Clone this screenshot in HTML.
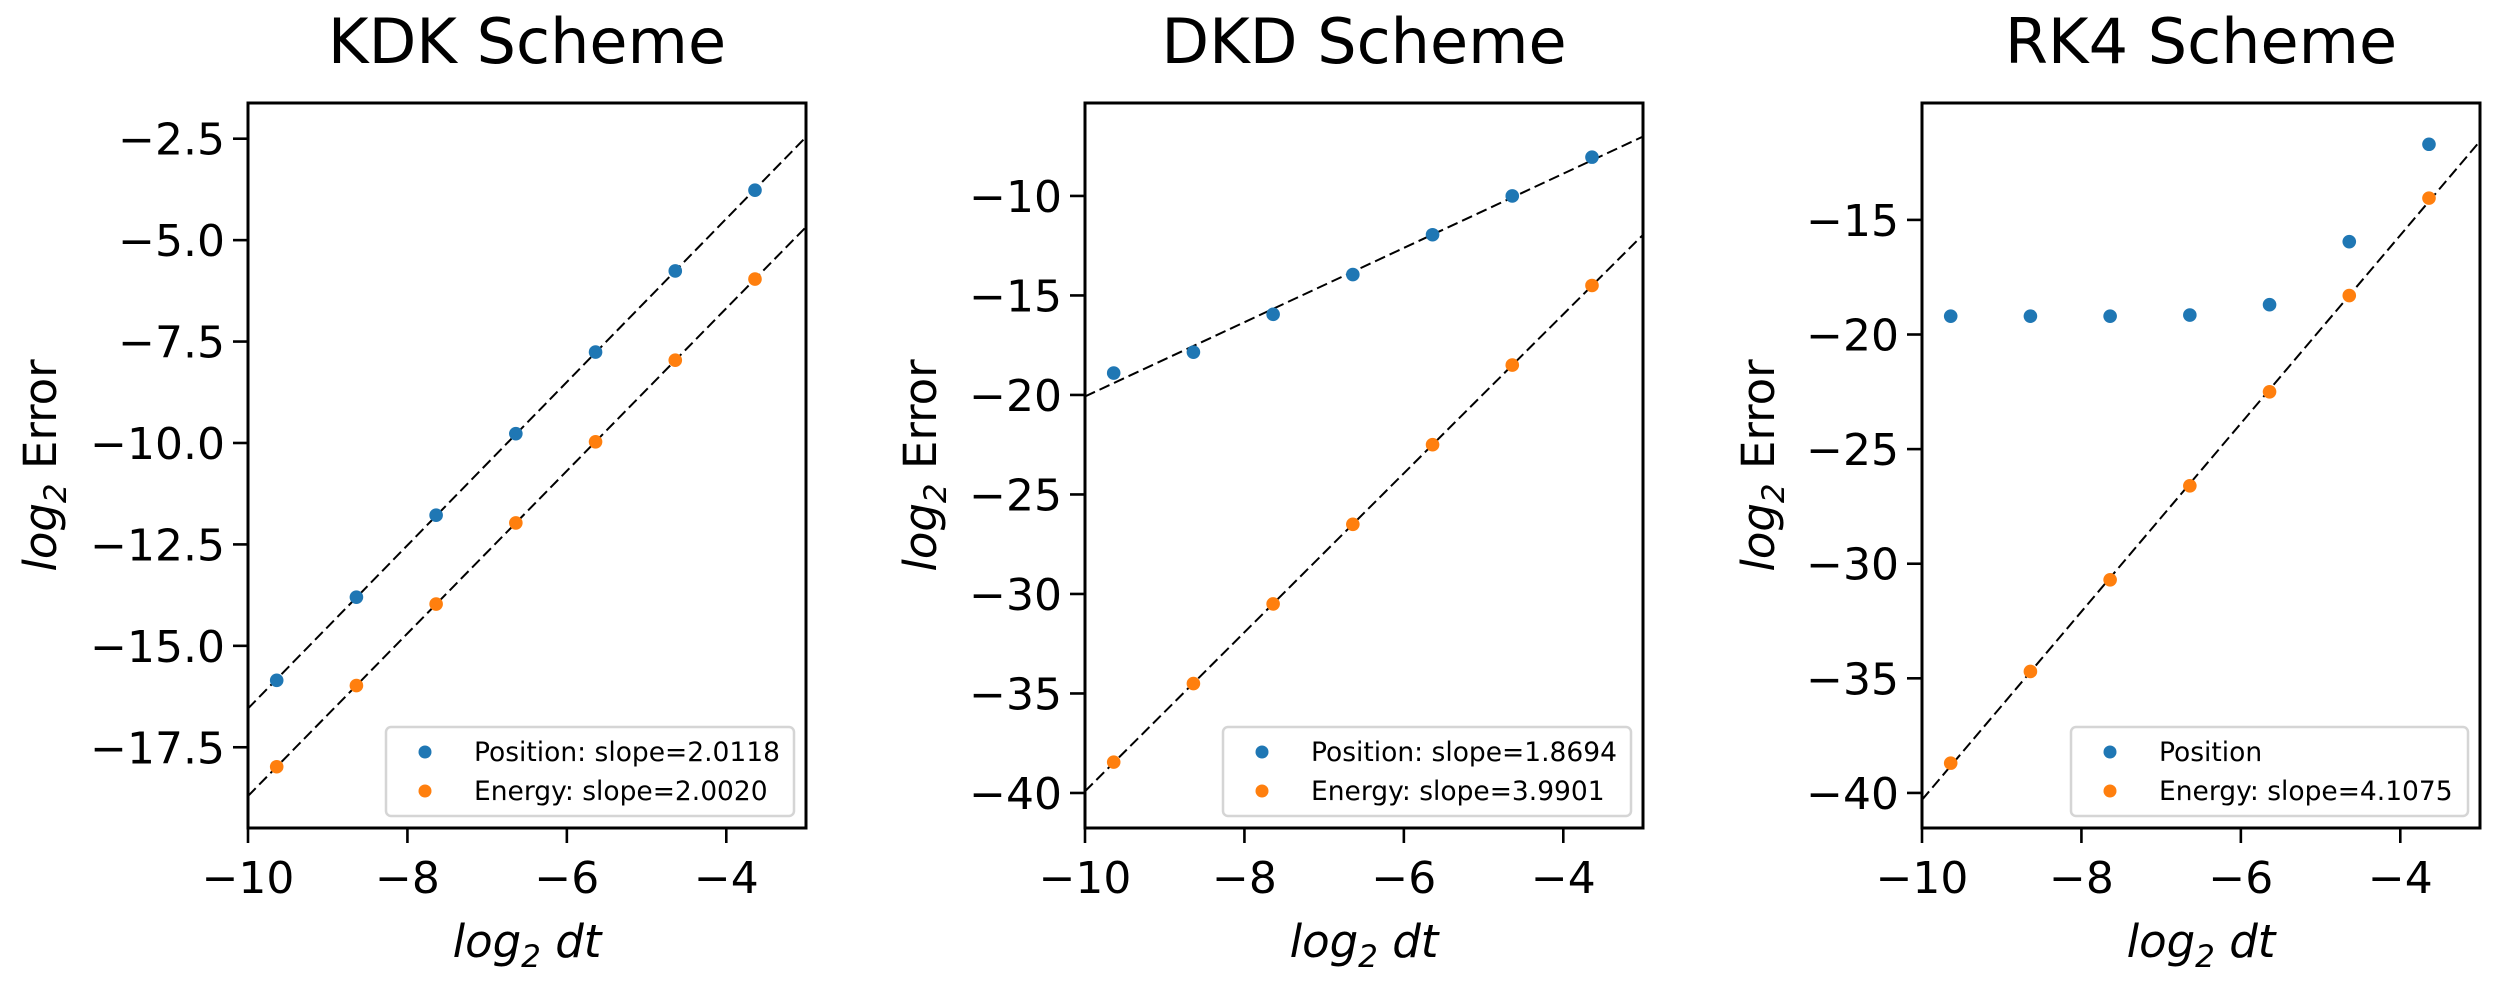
<!DOCTYPE html>
<html><head><meta charset="utf-8">
<style>
html,body{margin:0;padding:0;background:#fff;}
svg{display:block;font-family:"DejaVu Sans","Liberation Sans",sans-serif;}
</style></head>
<body>
<svg id="fig" width="2496" height="983" viewBox="0 0 2496 983" xmlns="http://www.w3.org/2000/svg"></svg>
<script>
const xs = [-9.64, -8.64, -7.64, -6.64, -5.64, -4.64, -3.64];
const xTicks = [-10, -8, -6, -4];
const kdkPos = [-15.85, -13.8, -11.78, -9.77, -7.76, -5.76, -3.77];
const kdkEn = [-17.98, -15.98, -13.97, -11.97, -9.97, -7.96, -5.96];
const dkdPos = [-18.9, -17.85, -15.95, -13.95, -11.95, -10.0, -8.05];
const dkdEn = [-38.45, -34.5, -30.5, -26.5, -22.5, -18.5, -14.5];
const rk4Pos = [-19.2, -19.2, -19.2, -19.15, -18.7, -15.95, -11.7];
const rk4En = [-38.7, -34.7, -30.7, -26.6, -22.5, -18.3, -14.05];
const kdkTicks = [-2.5, -5.0, -7.5, -10.0, -12.5, -15.0, -17.5];
const dkdTicks = [-10, -15, -20, -25, -30, -35, -40];
const rk4Ticks = [-15, -20, -25, -30, -35, -40];
const titles = ["KDK Scheme", "DKD Scheme", "RK4 Scheme"];
const posLabels = ["Position: slope=2.0118", "Position: slope=1.8694", "Position"];
const enLabels = ["Energy: slope=2.0020", "Energy: slope=3.9901", "Energy: slope=4.1075"];

const NS = "http://www.w3.org/2000/svg";
const svg = document.getElementById("fig");
function mk(tag, attrs, parent) {
  const e = document.createElementNS(NS, tag);
  for (const k in attrs) e.setAttribute(k, attrs[k]);
  (parent || svg).appendChild(e);
  return e;
}
function fit(x, y) {
  const n = x.length; let mx = 0, my = 0;
  for (let i = 0; i < n; i++) { mx += x[i]; my += y[i]; }
  mx /= n; my /= n;
  let sxy = 0, sxx = 0;
  for (let i = 0; i < n; i++) { sxy += (x[i]-mx)*(y[i]-my); sxx += (x[i]-mx)*(x[i]-mx); }
  const m = sxy / sxx; return [m, my - m*mx];
}
const panels = [
  {L:248, ymin:-19.49, ymax:-1.62, pos:kdkPos, en:kdkEn, ticks:kdkTicks, fmt:v=>v.toFixed(1), posLine:true, legW:408, ylabX:40},
  {L:1085, ymin:-41.76, ymax:-5.33, pos:dkdPos, en:dkdEn, ticks:dkdTicks, fmt:v=>String(v), posLine:true, legW:408, ylabX:920},
  {L:1922, ymin:-41.53, ymax:-9.9, pos:rk4Pos, en:rk4En, ticks:rk4Ticks, fmt:v=>String(v), posLine:false, legW:397, ylabX:1758}
];
const T = 103, B = 828, W = 558, XMIN = -10, XMAX = -3;
const BLUE = "#1f77b4", ORANGE = "#ff7f0e";
function minus(s){ return s.replace("-", "\u2212"); }

panels.forEach((p, pi) => {
  const g = mk("g", {});
  
  
  const sx = v => p.L + (v - XMIN) / (XMAX - XMIN) * W;
  const sy = v => B - (v - p.ymin) / (p.ymax - p.ymin) * (B - T);
  const clipId = "clip" + pi;
  const cp = mk("clipPath", {id: clipId}, g);
  mk("rect", {x:p.L, y:T, width:W, height:B-T}, cp);

  const lines = [[p.en, "energy"]];
  if (p.posLine) lines.unshift([p.pos, "position"]);
  lines.forEach(([ys, nm]) => {
    const [m, b] = fit(xs, ys);
    const ln = mk("line", {x1:sx(XMIN), y1:sy(m*XMIN+b), x2:sx(XMAX), y2:sy(m*XMAX+b),
      stroke:"#000", "stroke-width":2, "stroke-dasharray":"11,5", "clip-path":"url(#"+clipId+")"}, g);
    
    
  });
  [[p.pos, BLUE, "position"], [p.en, ORANGE, "energy"]].forEach(([ys, col, nm]) => {
    ys.forEach((v, i) => {
      const c = mk("circle", {cx:sx(xs[i]), cy:sy(v), r:6.8, fill:col}, g);
      
      
    });
  });
  const fr = mk("rect", {x:p.L, y:T, width:W, height:B-T, fill:"none", stroke:"#000", "stroke-width":3}, g);
  
  
  xTicks.forEach(v => {
    const x = sx(v);
    mk("line", {x1:x, y1:B, x2:x, y2:B+15, stroke:"#000", "stroke-width":2.6}, g);
    const t = mk("text", {x:x, y:893, "font-size":44, "text-anchor":"middle"}, g);
    t.textContent = minus(String(v));
    
    
  });
  p.ticks.forEach(v => {
    const y = sy(v);
    mk("line", {x1:p.L-15, y1:y, x2:p.L, y2:y, stroke:"#000", "stroke-width":2.6}, g);
    const t = mk("text", {x:p.L-23, y:y+16, "font-size":44, "text-anchor":"end"}, g);
    t.textContent = minus(p.fmt(v));
    
    
  });
  const tt = mk("text", {x:p.L+W/2, y:63, "font-size":62, "text-anchor":"middle"}, g);
  tt.textContent = titles[pi];
  
  
  const xl = mk("text", {x:p.L+W/2, y:957, "font-size":45, "text-anchor":"middle"}, g);
  xl.innerHTML = '<tspan font-style="italic">log</tspan><tspan font-style="italic" font-size="31" dy="10">2</tspan><tspan font-style="italic" dy="-10"> dt</tspan>';
  
  
  const yl = mk("text", {x:0, y:0, "font-size":45, "text-anchor":"middle",
    transform:"translate(" + (p.ylabX+16) + "," + ((T+B)/2) + ") rotate(-90)"}, g);
  yl.innerHTML = '<tspan font-style="italic">log</tspan><tspan font-size="31" font-style="italic" dy="10">2</tspan><tspan dy="-10"> Error</tspan>';
  
  
  const R = p.L + W - 12, lx = R - p.legW;
  const lg = mk("g", {}, g);
  
  
  mk("rect", {x:lx, y:727, width:p.legW, height:89, rx:5, fill:"#fff", "fill-opacity":0.8, stroke:"#d5d5d5", "stroke-width":2.5}, lg);
  [[posLabels[pi], BLUE, 752, 761], [enLabels[pi], ORANGE, 791, 800]].forEach(([lab, col, cy, by]) => {
    const e = mk("g", {}, lg);
    
    
    mk("circle", {cx:lx+39, cy:cy, r:6.5, fill:col}, e);
    const t = mk("text", {x:lx+88, y:by, "font-size":26.5}, e);
    t.textContent = lab;
  });
});
</script>
</body></html>
